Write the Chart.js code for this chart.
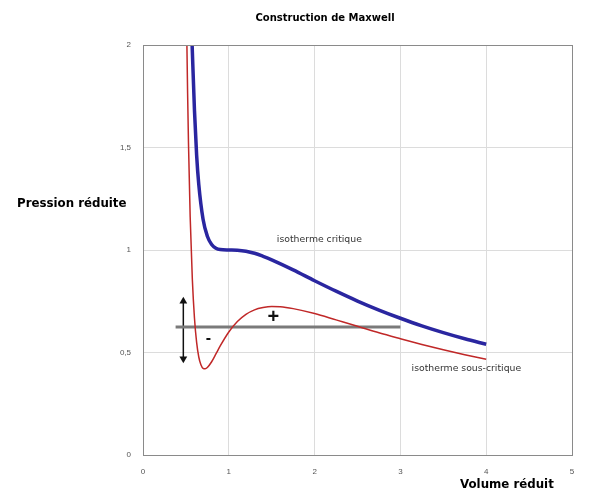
<!DOCTYPE html>
<html>
<head>
<meta charset="utf-8">
<title>Construction de Maxwell</title>
<script src="https://cdn.jsdelivr.net/npm/chart.js@4/dist/chart.umd.min.js"></script>
<style>
  html, body { margin: 0; padding: 0; background: #fff; }
  #wrap { width: 590px; height: 492px; }
</style>
</head>
<body>
<div id="wrap"><canvas id="maxwell" width="590" height="492"></canvas></div>
<script>
// reduced volume / reduced pressure, van der Waals isotherms
const volCritique = [0.57, 0.6, 0.625, 0.65, 0.7, 0.75, 0.8, 0.85, 0.9, 1.0, 1.1, 1.2, 1.3, 1.4, 1.5, 1.75, 2, 2.25, 2.5, 2.75, 3, 3.25, 3.5, 3.75, 4];
const presCritique = [2.03, 1.68, 1.463, 1.32, 1.15, 1.067, 1.027, 1.009, 1.002, 1.0, 0.999, 0.994, 0.984, 0.969, 0.952, 0.903, 0.85, 0.799, 0.751, 0.707, 0.667, 0.63, 0.597, 0.567, 0.54];

const volSousCritique = [0.51, 0.52, 0.53, 0.55, 0.575, 0.6, 0.625, 0.65, 0.675, 0.7, 0.725, 0.75, 0.8, 0.85, 0.9, 1.0, 1.1, 1.2, 1.3, 1.4, 1.5, 1.6, 1.75, 2, 2.25, 2.5, 2.75, 3, 3.25, 3.5, 3.75, 4];
const presSousCritique = [2.05, 1.762, 1.523, 1.16, 0.857, 0.667, 0.549, 0.478, 0.44, 0.423, 0.421, 0.427, 0.455, 0.493, 0.532, 0.6, 0.651, 0.686, 0.708, 0.719, 0.724, 0.723, 0.714, 0.69, 0.659, 0.628, 0.596, 0.567, 0.539, 0.513, 0.489, 0.467];

// plateau de Maxwell
const palierVol = [0.38, 3.0];
const palierPres = 0.625;

// double flèche verticale
const flecheVol = 0.47;
const flechePres = [0.47, 0.75];

const xTicks = [0, 1, 2, 3, 4, 5];
const yTicks = [0, 0.5, 1, 1.5, 2];

const toPoints = (xs, ys) => xs.map((x, i) => ({ x: x, y: ys[i] }));

// texts placed in data coordinates
const annotations = [
  { text: 'isotherme critique', x: 1.56, y: 1.05, font: '9.3px "DejaVu Sans"', color: '#333' },
  { text: 'isotherme sous-critique', x: 3.13, y: 0.42, font: '9.3px "DejaVu Sans"', color: '#333' },
  { text: '+', x: 1.45, y: 0.67, font: 'bold 20px "Liberation Sans"', color: '#111' },
  { text: '-', x: 0.73, y: 0.57, font: 'bold 16px "Liberation Sans"', color: '#111' }
];

const decor = {
  id: 'decor',
  afterDraw(chart) {
    const c = chart.ctx;
    const a = chart.chartArea;
    const sx = chart.scales.x, sy = chart.scales.y;
    c.save();
    // box around the plot
    c.strokeStyle = '#8a8a8a';
    c.lineWidth = 1;
    c.strokeRect(a.left + 0.5, a.top + 0.5, a.right - a.left, a.bottom - a.top);

    c.textBaseline = 'middle';
    c.textAlign = 'left';
    annotations.forEach(t => {
      c.font = t.font;
      c.fillStyle = t.color;
      c.fillText(t.text, sx.getPixelForValue(t.x), sy.getPixelForValue(t.y));
    });

    c.fillStyle = '#000';
    c.font = 'bold 10px "DejaVu Sans"';
    c.textAlign = 'center';
    c.fillText('Construction de Maxwell', 325, 18);
    c.textAlign = 'left';
    c.font = 'bold 11.8px "DejaVu Sans"';
    c.fillText('Pression réduite', 17, 204);
    c.fillText('Volume réduit', 460, 485);
    c.restore();
  }
};

new Chart(document.getElementById('maxwell'), {
  type: 'line',
  data: {
    datasets: [
      {
        label: 'isotherme critique',
        data: toPoints(volCritique, presCritique),
        borderColor: '#2a26a0',
        borderWidth: 3.5,
        pointRadius: 0,
        cubicInterpolationMode: 'monotone'
      },
      {
        label: 'isotherme sous-critique',
        data: toPoints(volSousCritique, presSousCritique),
        borderColor: '#c02828',
        borderWidth: 1.5,
        pointRadius: 0,
        cubicInterpolationMode: 'monotone'
      },
      {
        label: 'palier',
        data: palierVol.map(v => ({ x: v, y: palierPres })),
        borderColor: '#7a7a7a',
        borderWidth: 3,
        pointRadius: 0
      },
      {
        label: 'fleche',
        data: flechePres.map(p => ({ x: flecheVol, y: p })),
        borderColor: '#111',
        backgroundColor: '#111',
        borderWidth: 1.5,
        pointStyle: 'triangle',
        pointRotation: [180, 0],
        pointRadius: 4.5,
        pointBorderWidth: 0
      }
    ]
  },
  options: {
    responsive: false,
    animation: false,
    layout: { padding: { left: 0, top: 45, right: 18, bottom: 0 } },
    plugins: {
      legend: { display: false },
      title: { display: false },
      tooltip: { enabled: false }
    },
    scales: {
      x: {
        type: 'linear',
        min: 0,
        max: 5,
        afterFit: s => { s.height = 37; },
        afterBuildTicks: s => { s.ticks = xTicks.map(v => ({ value: v })); },
        grid: { color: '#dcdcdc', drawTicks: false },
        border: { color: '#8a8a8a' },
        ticks: { padding: 12, color: '#555', font: { size: 8, family: 'Liberation Sans' } }
      },
      y: {
        type: 'linear',
        min: 0,
        max: 2,
        afterFit: s => { s.width = 143; },
        afterBuildTicks: s => { s.ticks = yTicks.map(v => ({ value: v })); },
        grid: { color: '#dcdcdc', drawTicks: false },
        border: { color: '#8a8a8a' },
        ticks: {
          padding: 12,
          color: '#555',
          font: { size: 8, family: 'Liberation Sans' },
          callback: v => String(v).replace('.', ',')
        }
      }
    }
  },
  plugins: [decor]
});
</script>
</body>
</html>
